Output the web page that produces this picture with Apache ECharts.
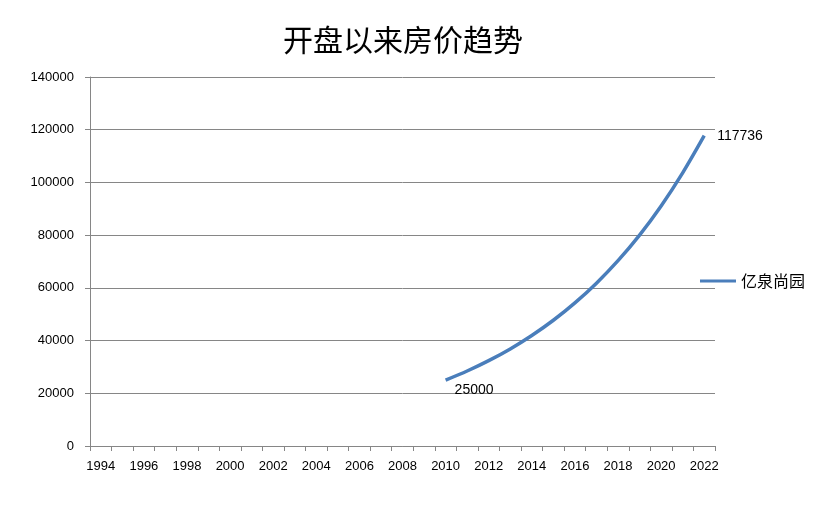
<!DOCTYPE html>
<html><head><meta charset="utf-8">
<script src="https://cdn.jsdelivr.net/npm/echarts@6/dist/echarts.min.js"></script>
<style>html,body{margin:0;padding:0;background:#fff}#c{width:830px;height:508px}</style>
</head><body><div id="c"></div>
<script>
const years = [];
for (let y = 1994; y <= 2022; y++) years.push(String(y));
const prices = [null,null,null,null,null,null,null,null,null,null,null,null,null,null,null,null,
  25000, 28450, 32380, 36840, 41930, 47710, 54300, 61790, 70320, 80020, 91070, 103630, 117736];
const yTicks = [0, 20000, 40000, 60000, 80000, 100000, 120000, 140000];
const seriesName = '亿泉尚园';
const last = prices.length - 1;
const first = prices.findIndex(v => v !== null);
const chart = echarts.init(document.getElementById('c'));
chart.setOption({
  animation: false,
  title: { text: '开盘以来房价趋势', left: 398, top: 20, textAlign: 'center',
    textStyle: { fontSize: 30, fontWeight: 'normal', color: '#000', fontFamily: 'Noto Sans CJK SC' } },
  legend: { right: 20, top: 268, orient: 'vertical', itemWidth: 36, itemHeight: 3, icon: 'rect',
    textStyle: { fontSize: 16, color: '#000', fontFamily: 'Noto Sans CJK SC' }, data: [seriesName] },
  grid: { left: 90, right: 115, top: 77, bottom: 62 },
  xAxis: { type: 'category', data: years, boundaryGap: true,
    axisLine: { lineStyle: { color: '#868686' } },
    axisTick: { show: true, interval: 0, lineStyle: { color: '#868686' } },
    axisLabel: { interval: 1, margin: 14, color: '#000', fontSize: 13, fontFamily: 'Liberation Sans' } },
  yAxis: { type: 'value', min: yTicks[0], max: yTicks[yTicks.length - 1], interval: 20000,
    axisLine: { show: true, lineStyle: { color: '#868686' } },
    axisTick: { show: true, lineStyle: { color: '#868686' } },
    splitLine: { lineStyle: { color: '#868686' } },
    axisLabel: { margin: 16, formatter: v => String(v), color: '#000', fontSize: 13, fontFamily: 'Liberation Sans' } },
  series: [{
    name: seriesName, type: 'line', data: prices.map((v, i) => {
      if (i === first) return { value: v, label: { show: true, position: 'right', offset: [4, 10] } };
      if (i === last) return { value: v, label: { show: true, position: 'right', offset: [8, 0] } };
      return v;
    }),
    smooth: 0.3, showSymbol: true, symbol: 'circle', symbolSize: 0.01,
    lineStyle: { color: '#4a7ebb', width: 3.5 }, itemStyle: { color: '#4a7ebb' },
    label: { show: false, color: '#000', fontSize: 14, fontFamily: 'Liberation Sans' }
  }]
});
</script></body></html>
